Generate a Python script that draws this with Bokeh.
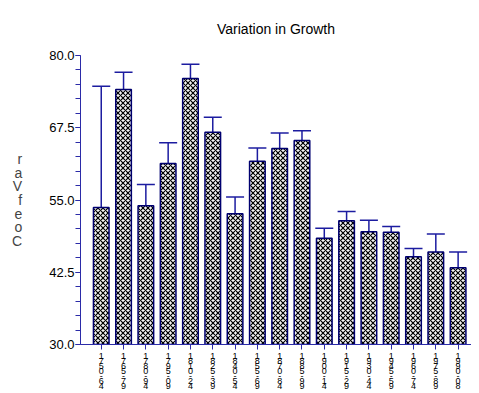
from bokeh.plotting import figure
from bokeh.models import (ColumnDataSource, FixedTicker, Range1d, Whisker, TeeHead,
                          NumeralTickFormatter)
from bokeh.embed import file_html
from bokeh.resources import INLINE

periods = ["1750-64", "1765-79", "1780-94", "1795-09", "1810-24", "1825-39",
           "1840-54", "1855-69", "1870-84", "1885-99", "1900-14", "1915-29",
           "1930-44", "1945-59", "1960-74", "1975-89", "1990-08"]
coef_var = [53.7, 74.1, 54.0, 61.3, 76.0, 66.7, 52.6, 61.7, 63.9, 65.3,
            48.4, 51.4, 49.5, 49.4, 45.2, 46.0, 43.3]
err_upper = [74.7, 77.1, 57.7, 64.9, 78.5, 69.3, 55.5, 64.0, 66.6, 67.0,
             50.1, 53.0, 51.5, 50.4, 46.6, 49.1, 46.0]
y_ticks = [30.0, 42.5, 55.0, 67.5, 80.0]
y_label = "CoefVar"
title = "Variation in Growth"

xs = list(range(1, len(periods) + 1))
src = ColumnDataSource(dict(x=xs, top=coef_var, err=err_upper))

FONT = "Liberation Sans"
AXIS = "#2b2ba8"

x0, x1 = 0.07, 17.6
p = figure(width=471, height=393, output_backend="svg", toolbar_location=None,
           x_range=Range1d(x0, x1), y_range=Range1d(30, 80),
           min_border_left=80, min_border_right=0, min_border_top=0,
           min_border_bottom=47)
p.title.text = title
p.title.align = "center"
p.title.text_font = FONT
p.title.text_font_size = "14px"
p.title.text_font_style = "normal"
p.title.text_color = "#000000"
p.title.standoff = 37
p.outline_line_color = None
p.xgrid.grid_line_color = None
p.ygrid.grid_line_color = None
p.background_fill_color = "white"
p.border_fill_color = "white"

p.vbar(x="x", top="top", bottom=30, width=0.7, source=src,
       fill_color="#f4f4f4", line_color="#000070", line_width=1.5,
       hatch_pattern="diagonal_cross", hatch_color="#000000",
       hatch_scale=5, hatch_weight=1.2)

w = Whisker(base="x", lower="top", upper="err", source=src,
            line_color="#1c1ca0", line_width=1.5,
            upper_head=TeeHead(size=18, line_color="#1c1ca0", line_width=1.5),
            lower_head=None)
p.add_layout(w)

# y axis
ya = p.yaxis[0]
ya.ticker = FixedTicker(ticks=y_ticks,
                        minor_ticks=[30 + 2.5 * i for i in range(21)])
ya.formatter = NumeralTickFormatter(format="0.0")
ya.axis_line_color = AXIS
ya.major_tick_line_color = AXIS
ya.minor_tick_line_color = AXIS
ya.major_tick_out = 5
ya.major_tick_in = 0
ya.minor_tick_out = 5
ya.minor_tick_in = 0
ya.major_label_text_font = FONT
ya.major_label_text_font_size = "13px"
ya.major_label_text_color = "#000000"
ya.major_label_standoff = 1
ya.axis_label = "\n".join(reversed(list(y_label)))
ya.axis_label_orientation = "horizontal"
ya.axis_label_text_font = FONT
ya.axis_label_text_font_size = "14px"
ya.axis_label_text_font_style = "normal"
ya.axis_label_text_line_height = 0.85
ya.axis_label_standoff = 24

# x axis
xa = p.xaxis[0]
xa.ticker = FixedTicker(ticks=xs, minor_ticks=[])
xa.major_label_overrides = {x: "\n".join(list(lbl)) for x, lbl in zip(xs, periods)}
xa.axis_line_color = AXIS
xa.major_tick_line_color = AXIS
xa.major_tick_out = 5
xa.major_tick_in = 0
xa.minor_tick_line_color = None
xa.major_label_text_font = FONT
xa.major_label_text_font_size = "9px"
xa.major_label_text_line_height = 0.5
xa.major_label_text_color = "#000000"
xa.major_label_standoff = 1

open("out.html", "w").write(file_html(p, INLINE))
